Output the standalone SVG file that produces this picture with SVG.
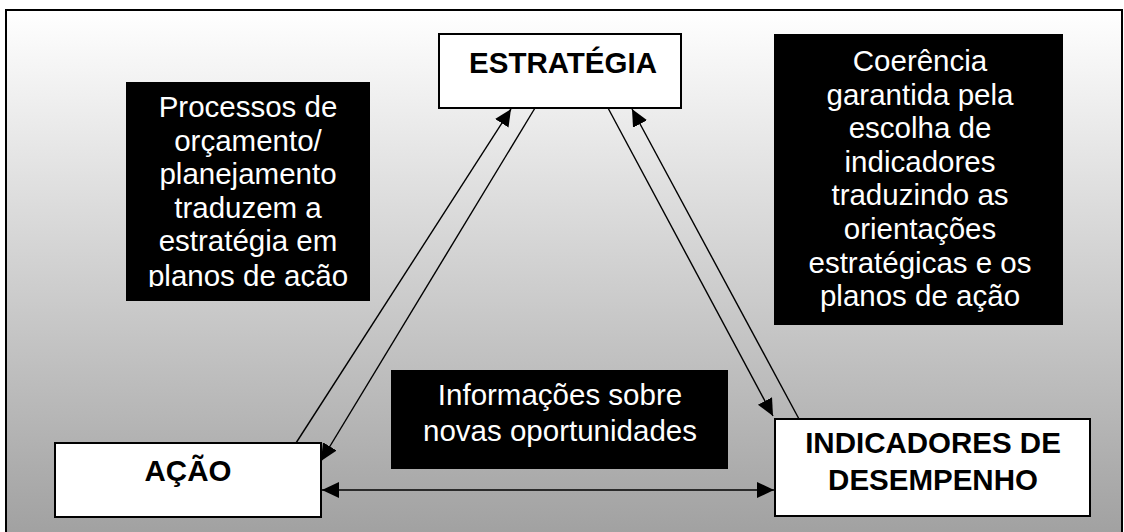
<svg xmlns="http://www.w3.org/2000/svg" width="1124" height="532" viewBox="0 0 1124 532">
  <defs>
    <linearGradient id="bg" x1="0" y1="0" x2="0" y2="1">
      <stop offset="0" stop-color="#ffffff"/>
      <stop offset="1" stop-color="#a0a0a0"/>
    </linearGradient>
    <marker id="ah" markerUnits="userSpaceOnUse" markerWidth="18" markerHeight="18" refX="17" refY="8" orient="auto-start-reverse" viewBox="0 0 18 16">
      <path d="M0,0 L17,8 L0,16 z" fill="#000"/>
    </marker>
    <clipPath id="clipProc">
      <rect x="126" y="82" width="244" height="205"/>
    </clipPath>
    <style>
      .node { fill: #ffffff; stroke: #000; stroke-width: 2; }
      .note { fill: #000; stroke: none; }
      .bold { font-family: "Liberation Sans", Arial, sans-serif; font-weight: bold; font-size: 29.5px; fill: #000; text-anchor: middle; }
      .wt { font-family: "Liberation Sans", Arial, sans-serif; font-size: 29.5px; fill: #fff; text-anchor: middle; }
      .conn { stroke: #000; stroke-width: 1.4; fill: none; }
    </style>
  </defs>

  <rect x="6" y="10" width="1116" height="530" fill="url(#bg)" stroke="#000" stroke-width="2"/>

  <g id="note-processos">
    <rect class="note" x="126" y="82" width="244" height="219"/>
    <g clip-path="url(#clipProc)">
      <text class="wt" x="248" y="117">Processos de</text>
      <text class="wt" x="248" y="150.6">orçamento/</text>
      <text class="wt" x="248" y="184.2">planejamento</text>
      <text class="wt" x="248" y="217.8">traduzem a</text>
      <text class="wt" x="248" y="251.4">estratégia em</text>
      <text class="wt" x="248" y="285.5">planos de ação</text>
    </g>
  </g>

  <g id="note-coerencia">
    <rect class="note" x="774" y="34" width="289" height="291"/>
    <text class="wt" x="920" y="71">Coerência</text>
    <text class="wt" x="920" y="104.6">garantida pela</text>
    <text class="wt" x="920" y="138.2">escolha de</text>
    <text class="wt" x="920" y="171.8">indicadores</text>
    <text class="wt" x="920" y="205.4">traduzindo as</text>
    <text class="wt" x="920" y="239">orientações</text>
    <text class="wt" x="920" y="272.6">estratégicas e os</text>
    <text class="wt" x="920" y="306">planos de ação</text>
  </g>

  <g id="note-informacoes">
    <rect class="note" x="391" y="370" width="337" height="99"/>
    <text class="wt" x="560" y="405">Informações sobre</text>
    <text class="wt" x="560" y="441">novas oportunidades</text>
  </g>

  <g id="connectors">
    <line class="conn" x1="296" y1="443" x2="511" y2="109" marker-end="url(#ah)"/>
    <line class="conn" x1="535" y1="108" x2="321" y2="461" marker-end="url(#ah)"/>
    <line class="conn" x1="608" y1="108" x2="773" y2="416" marker-end="url(#ah)"/>
    <line class="conn" x1="799" y1="419" x2="632" y2="109" marker-end="url(#ah)"/>
    <line class="conn" x1="322" y1="490" x2="774" y2="490" marker-start="url(#ah)" marker-end="url(#ah)"/>
  </g>

  <g id="node-estrategia">
    <rect class="node" x="439" y="34" width="242" height="74"/>
    <text class="bold" x="563" y="73">ESTRATÉGIA</text>
  </g>

  <g id="node-acao">
    <rect class="node" x="55" y="443" width="266" height="74"/>
    <text class="bold" x="188" y="481">AÇÃO</text>
  </g>

  <g id="node-indicadores">
    <rect class="node" x="775" y="419" width="315" height="97"/>
    <text class="bold" x="933" y="453">INDICADORES DE</text>
    <text class="bold" x="933" y="490">DESEMPENHO</text>
  </g>
</svg>
